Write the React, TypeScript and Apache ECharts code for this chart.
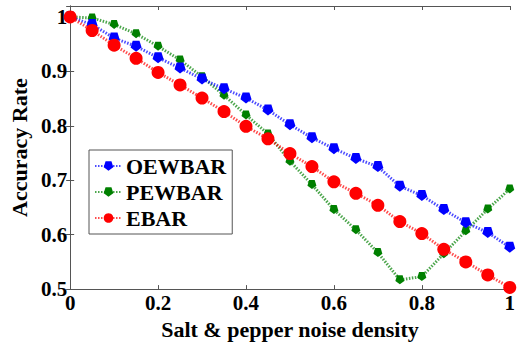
import React, { useEffect, useRef } from "react";
import * as echarts from "echarts";

const xValues = [0, 0.05, 0.1, 0.15, 0.2, 0.25, 0.3, 0.35, 0.4, 0.45, 0.5, 0.55, 0.6, 0.65, 0.7, 0.75, 0.8, 0.85, 0.9, 0.95, 1];
const oewbar = [1.0, 0.986, 0.961, 0.946, 0.925, 0.906, 0.886, 0.868, 0.851, 0.829, 0.802, 0.778, 0.758, 0.740, 0.725, 0.689, 0.672, 0.646, 0.622, 0.604, 0.577];
const pewbar = [1.0, 0.998, 0.986, 0.969, 0.946, 0.921, 0.890, 0.856, 0.820, 0.785, 0.735, 0.692, 0.646, 0.609, 0.567, 0.517, 0.523, 0.565, 0.607, 0.647, 0.684];
const ebar = [1.0, 0.975, 0.948, 0.924, 0.898, 0.875, 0.851, 0.826, 0.799, 0.776, 0.749, 0.725, 0.697, 0.676, 0.654, 0.624, 0.602, 0.573, 0.550, 0.526, 0.503];
const seriesNames = ["OEWBAR", "PEWBAR", "EBAR"];
const xTitle = "Salt & pepper noise density";
const yTitle = "Accuracy Rate";

const FONT = "Liberation Serif";
const PENT = "path://M0,10 L9.51,3.09 L5.88,-8.09 L-5.88,-8.09 L-9.51,3.09 Z";

export default function App() {
  const ref = useRef<HTMLDivElement>(null);
  useEffect(() => {
    if (!ref.current) return;
    const chart = echarts.init(ref.current, undefined, { renderer: "svg" });
    const pairs = (ys: number[]) => xValues.map((x, i) => [x, ys[i]]);
    const axisColor = "#555";
    const mk = (name: string, data: number[], color: string, symbol: string, size: number, z: number) => ({
      name,
      type: "line",
      data: pairs(data),
      symbol,
      symbolSize: size,
      showSymbol: true,
      z,
      itemStyle: { color },
      lineStyle: { color, width: 3, type: [1.5, 1.5], opacity: 0.7 },
    });
    const legendText = { fontFamily: FONT, fontWeight: "bold", fontSize: 22, lineHeight: 22, color: "#000" };
    chart.setOption({
      animation: false,
      backgroundColor: "#fff",
      textStyle: { fontFamily: FONT },
      grid: { left: 69, right: 8, top: 6, bottom: 51, containLabel: false },
      legend: {
        orient: "vertical",
        left: 89,
        top: 150,
        padding: [5, 6, 5, 5],
        itemGap: 4,
        itemWidth: 27,
        itemHeight: 12,
        borderColor: "#555",
        borderWidth: 1,
        backgroundColor: "#fff",
        formatter: "{a|{name}}",
        textStyle: { ...legendText, padding: [0, 0, 0, -1], rich: { a: legendText } },
        data: seriesNames,
      },
      xAxis: [
        {
          type: "value",
          min: 0,
          max: 1,
          interval: 0.2,
          name: xTitle,
          nameLocation: "middle",
          nameGap: 28,
          nameTextStyle: { fontFamily: FONT, fontWeight: "bold", fontSize: 22, color: "#000" },
          axisLine: { show: true, lineStyle: { color: axisColor } },
          axisTick: { show: true, inside: true, length: 4, lineStyle: { color: axisColor } },
          axisLabel: { fontFamily: FONT, fontWeight: "bold", fontSize: 21, color: "#000", margin: 3 },
          splitLine: { show: false },
        },
        {
          type: "value",
          position: "top",
          min: 0,
          max: 1,
          interval: 0.2,
          axisLine: { show: true, lineStyle: { color: axisColor } },
          axisTick: { show: true, inside: true, length: 4, lineStyle: { color: axisColor } },
          axisLabel: { show: false },
          splitLine: { show: false },
        },
      ],
      yAxis: [
        {
          type: "value",
          min: 0.5,
          max: 1.02,
          interval: 0.1,
          name: yTitle,
          nameLocation: "middle",
          nameGap: 33,
          nameRotate: 90,
          nameTextStyle: { fontFamily: FONT, fontWeight: "bold", fontSize: 22, color: "#000" },
          axisLine: { show: true, lineStyle: { color: axisColor } },
          axisTick: { show: true, inside: true, length: 4, lineStyle: { color: axisColor } },
          axisLabel: {
            fontFamily: FONT,
            fontWeight: "bold",
            fontSize: 21,
            color: "#000",
            margin: 3,
            showMaxLabel: false,
            formatter: (v: number) => (v > 1.001 ? "" : String(Math.round(v * 10) / 10)),
          },
          splitLine: { show: false },
        },
        {
          type: "value",
          position: "right",
          min: 0.5,
          max: 1.02,
          interval: 0.1,
          axisLine: { show: true, lineStyle: { color: axisColor } },
          axisTick: { show: true, inside: true, length: 4, lineStyle: { color: axisColor } },
          axisLabel: { show: false },
          splitLine: { show: false },
        },
      ],
      series: [
        mk(seriesNames[0], oewbar, "#0000ff", PENT, 11, 3),
        mk(seriesNames[1], pewbar, "#008000", PENT, 9, 2),
        mk(seriesNames[2], ebar, "#ff0000", "circle", 13, 4),
      ],
    });
    return () => chart.dispose();
  }, []);
  return <div ref={ref} style={{ width: 518, height: 345, position: "absolute", left: 0, top: 0 }} />;
}
